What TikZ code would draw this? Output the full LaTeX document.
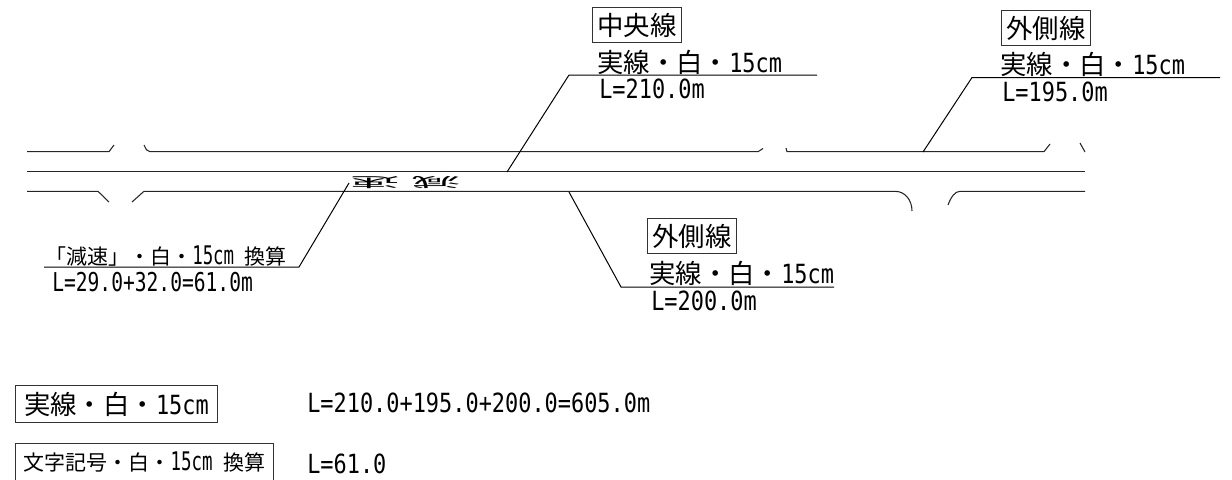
\documentclass[tikz,border=0pt]{standalone}
\usepackage{fontspec}
\setmainfont[FakeStretch=0.83]{DejaVu Sans Mono}
\newfontfamily\jpfont{Noto Sans CJK JP}
\newfontfamily\lenfont[FakeStretch=0.755,Scale=1.1]{DejaVu Sans Mono}
\newfontfamily\tallfont[FakeStretch=0.68,Scale=1.22]{DejaVu Sans Mono}
\newcommand{\jp}[1]{{\jpfont #1}}
\usetikzlibrary{calc}
\tikzset{
    roadline/.style={line width=0.8pt, black!85},
    leaderline/.style={line width=0.75pt, black},
    labeltext/.style={anchor=base west, inner sep=0pt, font=\fontsize{19.8}{22}\selectfont},
    smalltext/.style={anchor=base west, inner sep=0pt, font=\fontsize{15.75}{18}\selectfont\tallfont},
    lengthtext/.style={anchor=base west, inner sep=0pt, font=\fontsize{17.7}{20}\selectfont\lenfont},
    namebox/.style={draw=black!80, line width=0.75pt, anchor=north west, inner sep=0pt,
        minimum width=66.75pt, minimum height=26.5pt, font=\fontsize{19.8}{22}\selectfont},
    sumbox/.style={namebox, minimum height=27.75pt}
}

\begin{document}
\begin{tikzpicture}[x=0.75pt, y=-0.75pt]
    \useasboundingbox (0,0) rectangle (1232,479);
    \clip (0,0) rectangle (1232,479);

    % =====================
    % Road edges
    % =====================
    \draw[roadline] (27,171.7) -- (1085,171.7);
    \draw[roadline] (27,151.7) -- (109,151.7) -- (114,145);
    \draw[roadline] (144,145) .. controls (146,149) and (147,151.7) .. (150,151.7) -- (758,151.7) -- (763,148.5);
    \draw[roadline] (786,148) -- (787,151.7) -- (1044,151.7) -- (1050,144);
    \draw[roadline] (1080,143) -- (1085,152);
    \draw[roadline] (27,191.3) -- (98,191.3) -- (109,202);
    \draw[roadline] (132,202) -- (144,191.3) -- (895,191.3) .. controls (905,191.3) and (912,200) .. (912,211);
    \draw[roadline] (948,205) .. controls (951,197) and (955,191.3) .. (960,191.3) -- (1085,191.3);

    % Road marking
    \node[inner sep=0pt, rotate=180, font=\fontsize{37}{37}\selectfont] (marking) at (405.5,182.5)
        {\scalebox{1}[0.27]{\jp{減}\hspace{9pt}\jp{速}}};

    % =====================
    % Centre line label
    % =====================
    \node[namebox] (centerName) at (592,7) {\jp{中央線}};
    \node[labeltext] (centerType) at (597,72) {\jp{実線・白・}15cm};
    \node[labeltext] (centerLen) at (599,98) {L=210.0m};
    \coordinate (centerTip) at (507,172);
    \coordinate (centerElbow) at (569,75);
    \coordinate (centerEnd) at (817,75);
    \draw[leaderline] (centerTip) -- (centerElbow) -- (centerEnd);

    % =====================
    % Upper outer line label
    % =====================
    \node[namebox] (upperName) at (1001,10) {\jp{外側線}};
    \node[labeltext] (upperType) at (1000,74) {\jp{実線・白・}15cm};
    \node[labeltext] (upperLen) at (1002,101.5) {L=195.0m};
    \coordinate (upperTip) at (923,152);
    \coordinate (upperElbow) at (972,77.5);
    \coordinate (upperEnd) at (1220,77.5);
    \draw[leaderline] (upperTip) -- (upperElbow) -- (upperEnd);

    % =====================
    % Lower outer line label
    % =====================
    \node[namebox] (lowerName) at (647,218) {\jp{外側線}};
    \node[labeltext] (lowerType) at (649,283) {\jp{実線・白・}15cm};
    \node[labeltext] (lowerLen) at (651,310) {L=200.0m};
    \coordinate (lowerTip) at (569,192);
    \coordinate (lowerElbow) at (621,287);
    \coordinate (lowerEnd) at (834,287);
    \draw[leaderline] (lowerTip) -- (lowerElbow) -- (lowerEnd);

    % =====================
    % Marking label
    % =====================
    \node[smalltext] (markType) at (45,264) {\jp{「減速」・白・}15cm \jp{換算}};
    \node[lengthtext] (markLen) at (52,291) {L=29.0+32.0=61.0m};
    \coordinate (markTip) at (349,183);
    \coordinate (markElbow) at (299,267);
    \coordinate (markEnd) at (44,267);
    \draw[leaderline] (markTip) -- (markElbow) -- (markEnd);

    % =====================
    % Totals
    % =====================
    \node[sumbox, minimum width=150.9pt] (solidBox) at (15.3,385) {\jp{実線・白・}15cm};
    \node[labeltext] (solidLen) at (307,412) {L=210.0+195.0+200.0=605.0m};
    \node[sumbox, minimum width=193pt, font=\fontsize{15.75}{18}\selectfont\tallfont] (charBox) at (15.3,443) {\jp{文字記号・白・}15cm \jp{換算}};
    \node[labeltext] (charLen) at (307,473) {L=61.0};
\end{tikzpicture}
\end{document}
